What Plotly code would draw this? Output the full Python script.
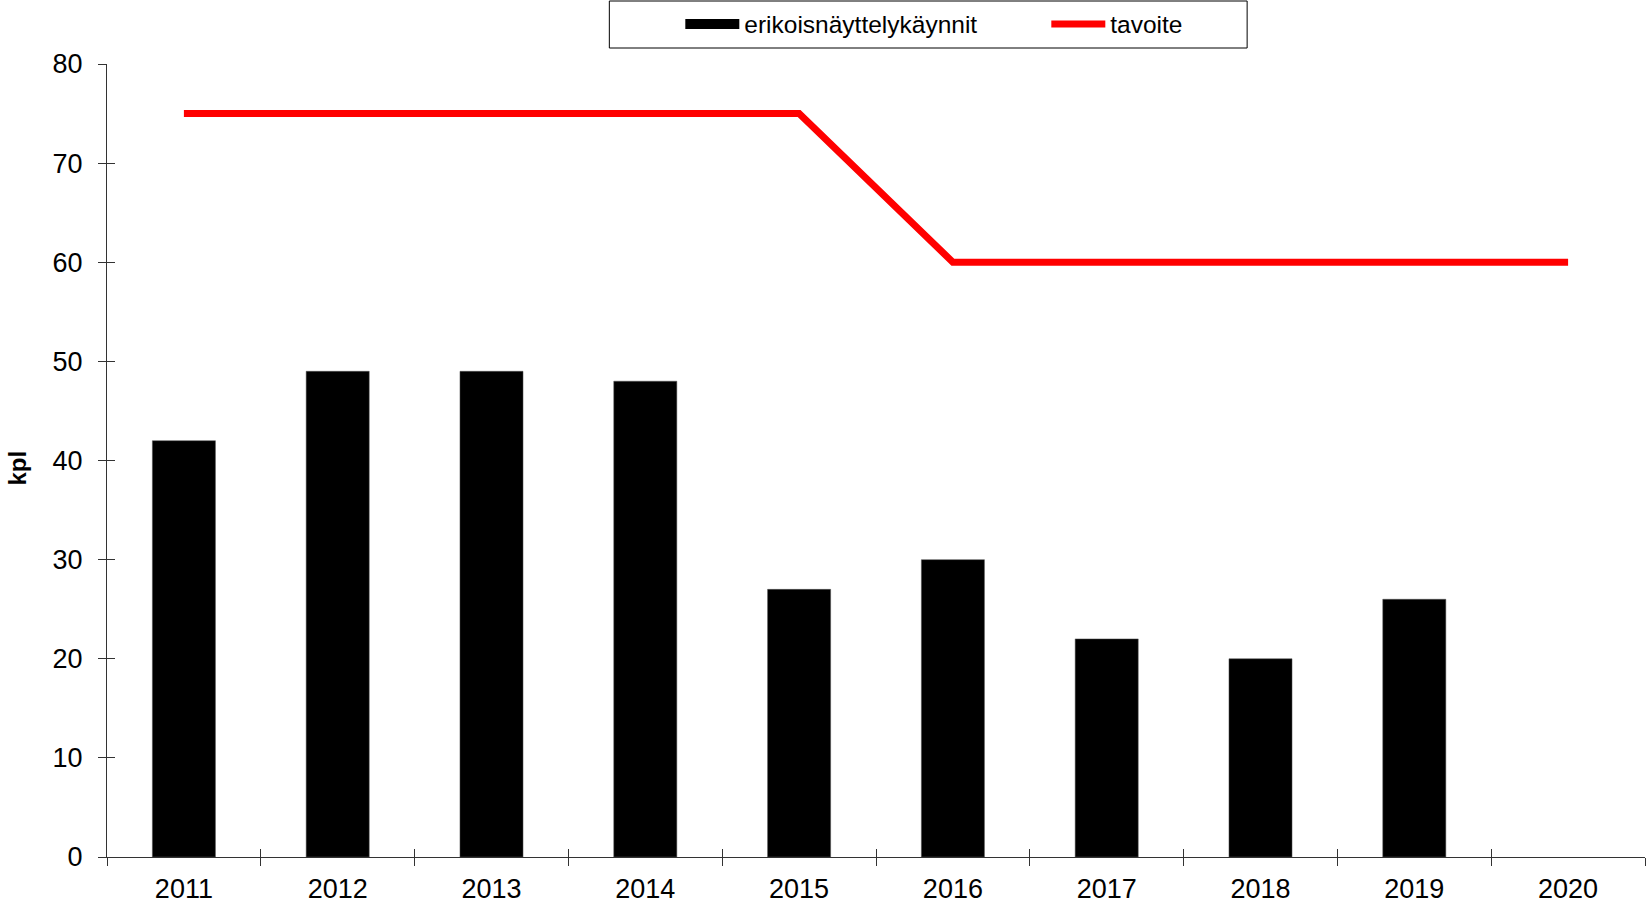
import plotly.graph_objects as go

years = ["2011", "2012", "2013", "2014", "2015", "2016", "2017", "2018", "2019", "2020"]
visits = [42, 49, 49, 48, 27, 30, 22, 20, 26, None]
target = [75, 75, 75, 75, 75, 60, 60, 60, 60, 60]
y_ticks = [0, 10, 20, 30, 40, 50, 60, 70, 80]

FONT = "Liberation Sans, Arial, sans-serif"
AX = "#333333"
W, H = 1647, 906
ML, MR, MT, MB = 106.5, 2, 64, 49
PW, PH = W - ML - MR, H - MT - MB


def px_x(p):
    return (p - ML) / PW


def px_y(p):
    return 1 + (MT - p) / PH


fig = go.Figure()
fig.add_trace(go.Bar(x=years, y=visits, name="erikoisnäyttelykäynnit", showlegend=False,
                     legendgroup="visits",
                     marker=dict(color="black", line=dict(color="#555", width=0.5))))
# legend entry for the bars (wide black key as in the original)
fig.add_trace(go.Scatter(x=[None], y=[None], name="erikoisnäyttelykäynnit", mode="lines",
                         legendgroup="visits", line=dict(color="black", width=13),
                         hoverinfo="skip"))
fig.add_trace(go.Scatter(x=years, y=target, name="tavoite", mode="lines",
                         line=dict(color="#ff0000", width=7)))
# helper trace for inner tick marks
fig.add_trace(go.Scatter(x=[], y=[], xaxis="x2", yaxis="y2", showlegend=False, hoverinfo="skip"))

# legend frame
fig.add_shape(type="rect", xref="paper", yref="paper",
              x0=px_x(609), x1=px_x(1247), y0=px_y(48), y1=px_y(1),
              line=dict(color="black", width=1), fillcolor="white", layer="below")

# y-axis title
fig.add_annotation(text="<b>kpl</b>", textangle=-90, xref="paper", yref="paper",
                   x=px_x(16), y=px_y(468), xanchor="center", yanchor="middle",
                   showarrow=False, font=dict(size=24, family=FONT, color="black"))

fig.update_layout(
    width=W, height=H,
    margin=dict(l=ML, r=MR, t=MT, b=MB, autoexpand=False),
    paper_bgcolor="white", plot_bgcolor="white",
    font=dict(family=FONT, size=27, color="black"),
    bargap=0.59,
    showlegend=True,
    legend=dict(orientation="h", x=px_x(680), xanchor="left", y=px_y(24), yanchor="middle",
                bgcolor="rgba(0,0,0,0)", borderwidth=0, font=dict(size=24.5),
                itemwidth=54, entrywidth=297, tracegroupgap=0),
    xaxis=dict(type="category", range=[-0.5, 9.5], tickson="boundaries",
               ticks="outside", ticklen=8, tickcolor=AX, showline=True, linecolor=AX,
               linewidth=1, showgrid=False, zeroline=False, tickfont=dict(size=27),
               ticklabelstandoff=8),
    yaxis=dict(range=[0, 80], tickvals=y_ticks, ticks="outside", ticklen=8, tickcolor=AX,
               showline=True, linecolor=AX, linewidth=1, showgrid=False, zeroline=False,
               tickfont=dict(size=27), ticklabelstandoff=10),
    xaxis2=dict(overlaying="x", anchor="y", side="bottom", range=[-0.5, 9.5],
                tickmode="linear", tick0=-0.5, dtick=1, ticks="inside", ticklen=8,
                tickcolor=AX, showticklabels=False, showgrid=False, zeroline=False,
                showline=False),
    yaxis2=dict(overlaying="y", anchor="x", side="left", range=[0, 80], tickvals=y_ticks,
                ticks="inside", ticklen=8, tickcolor=AX, showticklabels=False,
                showgrid=False, zeroline=False, showline=False),
)

fig.write_html("out.html", config={"displayModeBar": False},
               post_script="document.body.style.margin='0';")
